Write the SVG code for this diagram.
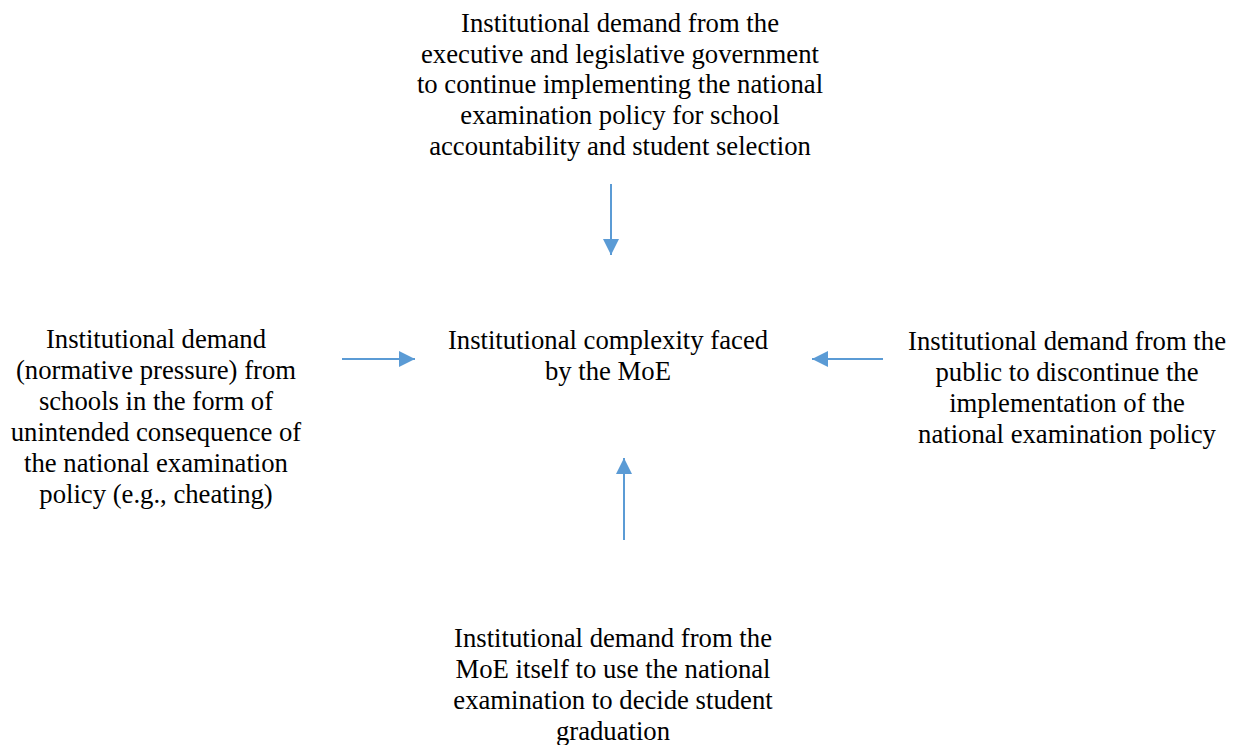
<svg xmlns="http://www.w3.org/2000/svg" width="1239" height="745" viewBox="0 0 1239 745">
<style>
text{font-family:"Liberation Serif","Times New Roman",serif;font-size:26.7px;fill:#000;text-anchor:middle}
.c{stroke:#5B9BD5;stroke-width:2;fill:none}
</style>
<defs>
<marker id="ah" markerUnits="strokeWidth" markerWidth="8" markerHeight="8" viewBox="0 0 8 8" refX="8" refY="4" orient="auto">
<path d="M0,0 L8,4 L0,8 z" fill="#5B9BD5"/>
</marker>
</defs>
<rect width="1239" height="745" fill="#fff"/>
<g id="top">
<text x="620" y="31.5">Institutional demand from the</text>
<text x="620" y="62.5">executive and legislative government</text>
<text x="620" y="93">to continue implementing the national</text>
<text x="620" y="124">examination policy for school</text>
<text x="620" y="155">accountability and student selection</text>
</g>
<g id="center">
<text x="608" y="349">Institutional complexity faced</text>
<text x="608" y="380">by the MoE</text>
</g>
<g id="left">
<text x="156" y="348">Institutional demand</text>
<text x="156" y="379">(normative pressure) from</text>
<text x="156" y="410">schools in the form of</text>
<text x="156" y="441">unintended consequence of</text>
<text x="156" y="472">the national examination</text>
<text x="156" y="502.5">policy (e.g., cheating)</text>
</g>
<g id="right">
<text x="1067" y="350">Institutional demand from the</text>
<text x="1067" y="381">public to discontinue the</text>
<text x="1067" y="412">implementation of the</text>
<text x="1067" y="443">national examination policy</text>
</g>
<g id="bottom">
<text x="613" y="647">Institutional demand from the</text>
<text x="613" y="678">MoE itself to use the national</text>
<text x="613" y="709">examination to decide student</text>
<text x="613" y="740">graduation</text>
</g>
<g id="connectors">
<line class="c" x1="611" y1="184" x2="611" y2="255" marker-end="url(#ah)"/>
<line class="c" x1="342" y1="359" x2="415" y2="359" marker-end="url(#ah)"/>
<line class="c" x1="883" y1="359" x2="812" y2="359" marker-end="url(#ah)"/>
<line class="c" x1="624" y1="540" x2="624" y2="458" marker-end="url(#ah)"/>
</g>
</svg>
